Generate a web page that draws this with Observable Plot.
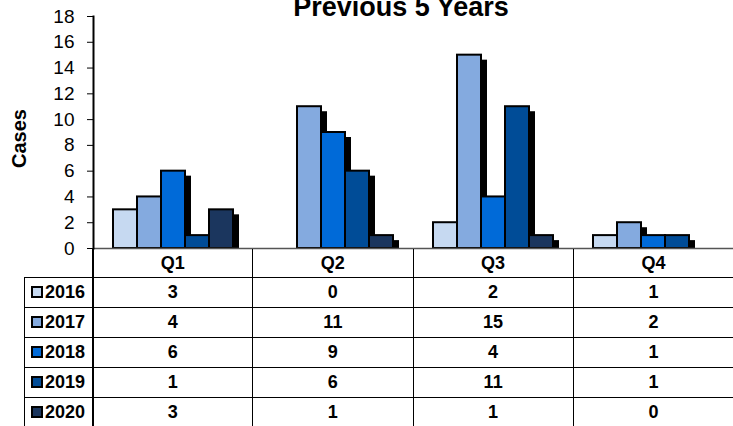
<!DOCTYPE html>
<html><head><meta charset="utf-8">
<script src="https://cdn.jsdelivr.net/npm/d3@7"></script>
<script src="https://cdn.jsdelivr.net/npm/@observablehq/plot@0.6"></script>
<style>
body{margin:0;background:#fff;font-family:"Liberation Sans",Arial,sans-serif;}
#wrap{position:relative;width:733px;height:426px;overflow:hidden;background:#fff;}
#title{position:absolute;left:151px;width:500px;top:-6.4px;text-align:center;font-weight:bold;font-size:27px;line-height:27px;color:#000;}
#chart{position:absolute;left:0;top:0;}
#tbl{position:absolute;left:24px;top:249px;border-collapse:collapse;table-layout:fixed;width:709px;font-weight:bold;font-size:18px;color:#000;}
#tbl td{padding:0;text-align:center;border:1px solid #000;white-space:nowrap;}
#tbl tr.head td{height:28px;border-top:none;}
#tbl tr.head td.blank{border:none;border-bottom:1px solid #000;}
#tbl tr.row td{height:29px;}
#tbl td.lab{text-align:left;padding-left:6px;}
#tbl td.q1{border-left:2px solid #000;}
#tbl td.last{border-right:none;}
.sw{display:inline-block;width:8px;height:8px;border:2px solid #000;margin-right:2px;vertical-align:0px;}
</style>
</head><body>
<div id="wrap">
  <div id="chart"></div>
  <div id="title">Previous 5 Years</div>
  <table id="tbl"></table>
</div>
<script>
const quarters = ["Q1", "Q2", "Q3", "Q4"];
const years = ["2016", "2017", "2018", "2019", "2020"];
const v2016 = [3, 0, 2, 1];
const v2017 = [4, 11, 15, 2];
const v2018 = [6, 9, 4, 1];
const v2019 = [1, 6, 11, 1];
const v2020 = [3, 1, 1, 0];
const yTicks = [0, 2, 4, 6, 8, 10, 12, 14, 16, 18];
const colors = ["#C6D9F1", "#84AADF", "#006AD8", "#004C97", "#1B365E"];
const series = [v2016, v2017, v2018, v2019, v2020];

const data = quarters.flatMap((q, i) => years.map((y, j) => ({quarter: q, year: y, value: series[j][i]})));
const nz = data.filter(d => d.value > 0);

const chart = Plot.plot({
  width: 733, height: 262,
  marginTop: 16, marginBottom: 14, marginLeft: 92, marginRight: 0,
  style: {fontFamily: "Liberation Sans, Arial, sans-serif", fontSize: "18px", color: "#000", background: "transparent"},
  fx: {domain: quarters, padding: 0, axis: null},
  x: {domain: years, paddingInner: 0, paddingOuter: 0.75, axis: null},
  y: {domain: [0, 18]},
  color: {domain: years, range: colors},
  marks: [
    Plot.barY(nz, {fx: "quarter", x: "year", y: "value", fill: "#000", dx: 6, insetTop: 5}),
    Plot.barY(nz, {fx: "quarter", x: "year", y: "value", fill: "year", stroke: "#000", strokeWidth: 2}),
    Plot.ruleY([0], {stroke: "#555", strokeWidth: 1.5}),
    Plot.frame({anchor: "left", facetAnchor: "left", stroke: "#000", strokeWidth: 2}),
    Plot.axisY({ticks: yTicks, tickSize: 6, tickPadding: 13, label: null, fontSize: 19, facetAnchor: "left"}),
    Plot.text(["Cases"], {frameAnchor: "left", textAnchor: "middle", dx: -74, dy: 6, rotate: -90, fontWeight: "bold", fontSize: 20, facetAnchor: "left"})
  ]
});
document.getElementById("chart").appendChild(chart);

// data table
const tbl = document.getElementById("tbl");
const cg = document.createElement("colgroup");
[68, 160.25, 160.25, 160.25, 160.25].forEach(w => { const c = document.createElement("col"); c.style.width = w + "px"; cg.appendChild(c); });
tbl.appendChild(cg);
const head = document.createElement("tr"); head.className = "head";
const b = document.createElement("td"); b.className = "blank"; head.appendChild(b);
quarters.forEach((q, i) => { const td = document.createElement("td"); td.textContent = q; td.className = (i === 0 ? "q1" : "") + (i === 3 ? " last" : ""); head.appendChild(td); });
tbl.appendChild(head);
years.forEach((y, j) => {
  const tr = document.createElement("tr"); tr.className = "row";
  const lab = document.createElement("td"); lab.className = "lab";
  const sw = document.createElement("span"); sw.className = "sw"; sw.style.background = colors[j];
  lab.appendChild(sw); lab.appendChild(document.createTextNode(y));
  tr.appendChild(lab);
  series[j].forEach((v, i) => { const td = document.createElement("td"); td.textContent = v; td.className = (i === 0 ? "q1" : "") + (i === 3 ? " last" : ""); tr.appendChild(td); });
  tbl.appendChild(tr);
});
</script>
</body></html>
